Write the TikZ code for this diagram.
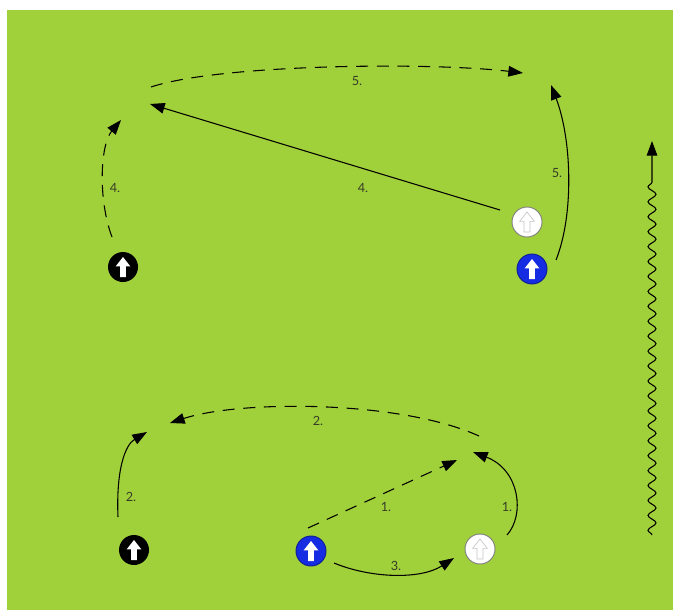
\documentclass[tikz,border=0pt]{standalone}
\usepackage{fontspec}
\setmainfont{Lato}
\usetikzlibrary{arrows.meta,decorations.pathmorphing}

\definecolor{field}{RGB}{160,208,58}
\definecolor{pblue}{RGB}{22,44,226}
\definecolor{labelgray}{RGB}{55,60,40}

\newcommand{\tokenarrow}{([shift={(-2.2pt,-7.5pt)}]path picture bounding box.center) -- ++(0pt,8pt) -- ++(-3.3pt,0pt) -- ++(5.5pt,7pt) -- ++(5.5pt,-7pt) -- ++(-3.3pt,0pt) -- ++(0pt,-8pt) -- cycle}

\tikzstyle{token} = [circle,minimum size=22.5pt,inner sep=0pt,line width=0.7pt]
\tikzstyle{darkplayer} = [token,fill=black,path picture={\fill[white] \tokenarrow;}]
\tikzstyle{blueplayer} = [token,fill=pblue,draw=pblue!65!black,path picture={\fill[white] \tokenarrow;}]
\tikzstyle{whiteplayer} = [token,fill=white,draw=gray,path picture={\filldraw[fill=white,draw=gray!45,line width=0.5pt] \tokenarrow;}]
\tikzstyle{move} = [line width=0.8pt,-{Triangle[length=11pt,width=8pt]}]
\tikzstyle{pass} = [move,dash pattern=on 9pt off 6.5pt]
\tikzstyle{dribble} = [move,decorate,decoration={snake,amplitude=3pt,segment length=11.2pt,post length=28pt}]
\tikzstyle{lbl} = [text=labelgray,font=\fontsize{9.5}{11}\selectfont,inner sep=1pt]

\begin{document}
\begin{tikzpicture}[x=0.75pt,y=-0.75pt]
	\useasboundingbox (0,0) rectangle (673,610);
	\fill[white] (0,0) rectangle (673,610);
	\fill[field] (7,10) rectangle (673,610);

	\node[darkplayer] (b1) at (123,267) {};
	\node[whiteplayer] (w1) at (527,222) {};
	\node[blueplayer] (u1) at (532,269) {};
	\node[darkplayer] (b2) at (134,550) {};
	\node[blueplayer] (u2) at (311,551) {};
	\node[whiteplayer] (w2) at (480,549) {};

	\coordinate (p4s) at (112,237);
	\coordinate (p4e) at (121,120);
	\coordinate (r4s) at (500,210);
	\coordinate (r4e) at (150,104);
	\coordinate (p5s) at (151,87);
	\coordinate (p5e) at (523,73);
	\coordinate (r5s) at (556,260);
	\coordinate (r5e) at (551,85);
	\coordinate (d1s) at (652,535);
	\coordinate (d1e) at (652,141);
	\coordinate (r2s) at (118,517);
	\coordinate (r2e) at (147,432);
	\coordinate (p2s) at (479,436);
	\coordinate (p2e) at (170,423);
	\coordinate (p1s) at (308,528);
	\coordinate (p1e) at (457,460);
	\coordinate (r1s) at (507,535);
	\coordinate (r1e) at (473,452);
	\coordinate (r3s) at (334,563);
	\coordinate (r3e) at (454,558);

	\draw[pass] (p4s) .. controls (98,200) and (100,145) .. (p4e);
	\draw[move] (r4s) -- (r4e);
	\draw[pass] (p5s) .. controls (220,64) and (430,62) .. (p5e);
	\draw[move] (r5s) .. controls (574,215) and (572,140) .. (r5e);
	\draw[dribble] (d1s) -- (d1e);
	\draw[move] (r2s) .. controls (116,470) and (125,445) .. (r2e);
	\draw[pass] (p2s) .. controls (400,400) and (240,400) .. (p2e);
	\draw[pass] (p1s) -- (p1e);
	\draw[move] (r1s) .. controls (525,515) and (520,470) .. (r1e);
	\draw[move] (r3s) .. controls (370,578) and (420,580) .. (r3e);

	\node[lbl] (t4a) at (115,188) {4.};
	\node[lbl] (t4b) at (363,188) {4.};
	\node[lbl] (t5a) at (357,81) {5.};
	\node[lbl] (t5b) at (557,173) {5.};
	\node[lbl] (t2a) at (131,497) {2.};
	\node[lbl] (t2b) at (318,421) {2.};
	\node[lbl] (t1a) at (386,507) {1.};
	\node[lbl] (t1b) at (507,507) {1.};
	\node[lbl] (t3) at (396,566) {3.};
\end{tikzpicture}
\end{document}
